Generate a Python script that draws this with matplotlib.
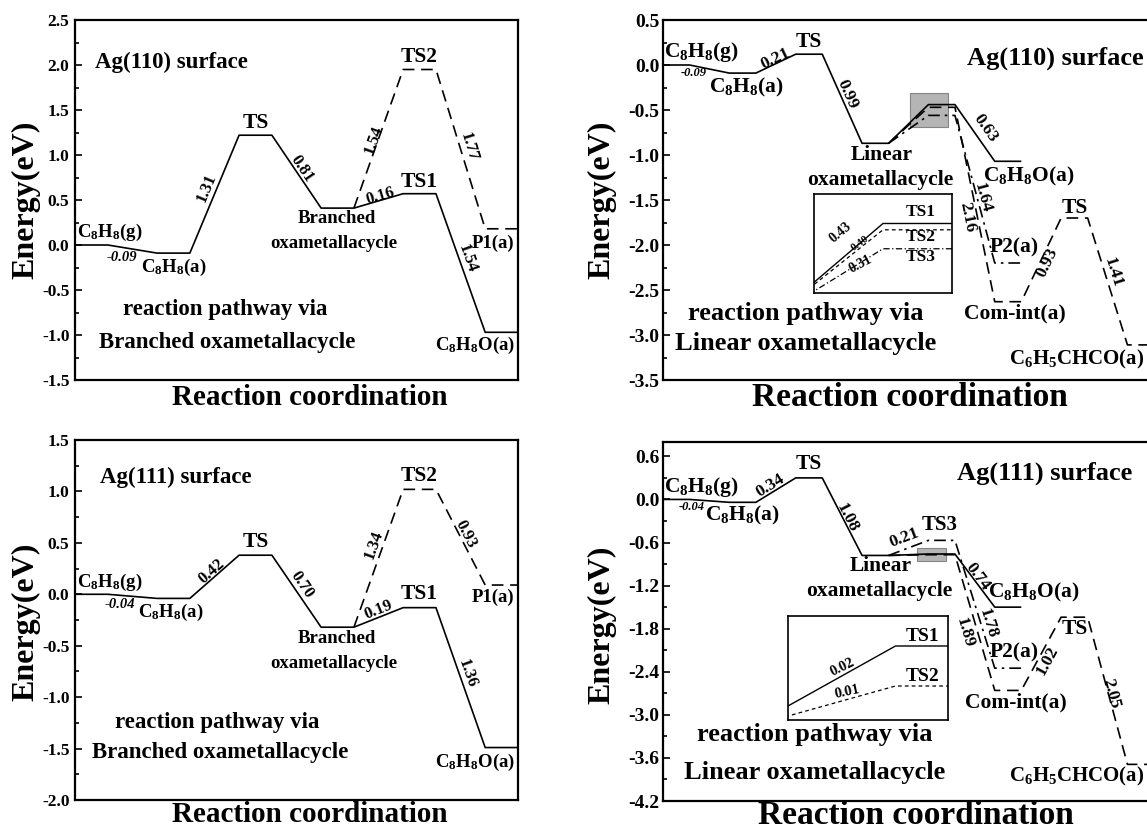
import numpy as np
import matplotlib
matplotlib.use("Agg")
import matplotlib.pyplot as plt
from matplotlib.patches import Rectangle
from matplotlib.ticker import FormatStrFormatter

plt.rcParams.update({
    "font.family": ["Liberation Serif", "DejaVu Serif"],
    "font.weight": "bold",
    "mathtext.fontset": "custom",
    "mathtext.rm": "Liberation Serif:bold",
    "mathtext.it": "Liberation Serif:italic:bold",
    "mathtext.bf": "Liberation Serif:bold",
    "axes.unicode_minus": False,
})

W, H = 1147, 834
fig = plt.figure(figsize=(W / 100, H / 100), dpi=100)

WL = 0.4  # width of an energy level in "step" units

# ---------------- data ----------------
# Ag(110), branched oxametallacycle pathway
tl_idx = [0, 1, 2, 3, 4, 5]
tl_E = [0.00, -0.09, 1.22, 0.41, 0.57, -0.97]
tl_alt_idx = [3, 4, 5]
tl_alt_E = [0.41, 1.95, 0.18]

# Ag(110), linear oxametallacycle pathway
tr_idx = [0, 1, 2, 3, 4, 5]
tr_E = [0.00, -0.09, 0.12, -0.87, -0.44, -1.07]
tr_dash_idx = [3, 4, 5, 6, 7]
tr_dash_E = [-0.87, -0.47, -2.63, -1.70, -3.11]
tr_dd_idx = [3, 4, 5]
tr_dd_E = [-0.87, -0.56, -2.20]

# Ag(111), branched oxametallacycle pathway
bl_idx = [0, 1, 2, 3, 4, 5]
bl_E = [0.00, -0.04, 0.38, -0.32, -0.13, -1.49]
bl_alt_idx = [3, 4, 5]
bl_alt_E = [-0.32, 1.02, 0.09]

# Ag(111), linear oxametallacycle pathway
br_idx = [0, 1, 2, 3, 4, 5]
br_E = [0.00, -0.04, 0.30, -0.78, -0.76, -1.50]
br_dash_idx = [3, 4, 5, 6, 7]
br_dash_E = [-0.78, -0.77, -2.66, -1.64, -3.69]
br_dd_idx = [3, 4, 5]
br_dd_E = [-0.78, -0.57, -2.35]

tl_ticks = [-1.5, -1.0, -0.5, 0.0, 0.5, 1.0, 1.5, 2.0, 2.5]
tr_ticks = [-3.5, -3.0, -2.5, -2.0, -1.5, -1.0, -0.5, 0.0, 0.5]
bl_ticks = [-2.0, -1.5, -1.0, -0.5, 0.0, 0.5, 1.0, 1.5]
br_ticks = [-4.2, -3.6, -3.0, -2.4, -1.8, -1.2, -0.6, 0.0, 0.6]

DASH = (0, (7, 4))
DASHDOT = (0, (7, 3, 1.5, 3))


def path_xy(idx, E, from_end=False):
    xs, ys = [], []
    for k, (i, e) in enumerate(zip(idx, E)):
        if k == 0 and from_end:
            xs.append(i + WL)
            ys.append(e)
        else:
            xs += [i, i + WL]
            ys += [e, e]
    return xs, ys


def make_ax(l, t, r, b, ylim, ticks, xmax, tsize=12.5, pad=4):
    ax = fig.add_axes([l / W, 1 - b / H, (r - l) / W, (b - t) / H])
    ax.set_xlim(0, xmax)
    ax.set_ylim(*ylim)
    ax.set_xticks([])
    ax.set_yticks(ticks)
    step = ticks[1] - ticks[0]
    minor = [round(v + step / 2, 3) for v in ticks[:-1]]
    if ylim[1] > ticks[-1] + step / 2 - 1e-9:
        minor.append(round(ticks[-1] + step / 2, 3))
    ax.set_yticks(minor, minor=True)
    ax.yaxis.set_major_formatter(FormatStrFormatter("%.1f"))
    ax.tick_params(axis="y", which="both", direction="in", labelsize=tsize,
                   width=1.2, pad=pad)
    ax.tick_params(axis="y", which="major", length=5)
    ax.tick_params(axis="y", which="minor", length=3)
    for s in ax.spines.values():
        s.set_linewidth(1.6)
    return ax


def seg_angle(ax, p0, p1):
    a = ax.transData.transform(p0)
    b = ax.transData.transform(p1)
    return np.degrees(np.arctan2(b[1] - a[1], b[0] - a[0]))


def draw(ax, idx, E, ls="-", from_end=False, lw=1.2):
    xs, ys = path_xy(idx, E, from_end)
    ax.plot(xs, ys, color="black", lw=lw, ls=ls, zorder=3,
            solid_capstyle="butt", dash_capstyle="butt")


def barrier(ax, txt, i0, e0, i1, e1, x, y, size=12):
    rot = seg_angle(ax, (i0 + WL, e0), (i1, e1))
    ax.text(x, y, txt, rotation=rot, rotation_mode="anchor", ha="center",
            va="center", fontsize=size, zorder=5)


def label(ax, x, y, s, size=13.5, ha="center", va="center", **kw):
    ax.text(x, y, s, fontsize=size, ha=ha, va=va, zorder=5, **kw)


C8H8g = r"C$_\mathrm{8}$H$_\mathrm{8}$(g)"
C8H8a = r"C$_\mathrm{8}$H$_\mathrm{8}$(a)"
C8H8O = r"C$_\mathrm{8}$H$_\mathrm{8}$O(a)"
C6H5 = r"C$_\mathrm{6}$H$_\mathrm{5}$CHCO(a)"

# right-hand panels are printed with slightly larger lettering
RS = 15.5   # state labels
RT = 19     # titles
RB = 12.5   # barrier labels

# ================= top-left =================
ax = make_ax(75, 20, 518, 380, (-1.5, 2.5), tl_ticks, 5.4)
draw(ax, tl_idx, tl_E)
draw(ax, tl_alt_idx, tl_alt_E, ls=DASH, from_end=True)
label(ax, 0.24, 2.03, "Ag(110) surface", 16.5, ha="left")
label(ax, 2.2, tl_E[2] + 0.03, "TS", 15.5, va="bottom")
label(ax, 4.2, tl_alt_E[1] + 0.03, "TS2", 15.5, va="bottom")
label(ax, 4.2, tl_E[4] + 0.02, "TS1", 15.5, va="bottom")
label(ax, 0.02, tl_E[0] + 0.02, C8H8g, ha="left", va="bottom")
label(ax, 0.57, -0.14, "-0.09", 10.5, style="italic")
label(ax, 0.81, tl_E[1] - 0.04, C8H8a, ha="left", va="top")
label(ax, 3.19, 0.30, "Branched", 13.5)
label(ax, 3.15, 0.02, "oxametallacycle", 13.5)
label(ax, 5.1, tl_alt_E[2] - 0.06, "P1(a)", 13.5, va="top")
label(ax, 4.88, tl_E[5] - 0.03, C8H8O, 13.5, va="top")
label(ax, 1.83, -0.72, "reaction pathway via", 16.5)
label(ax, 1.85, -1.08, "Branched oxametallacycle", 16.5)
barrier(ax, "1.31", 1, tl_E[1], 2, tl_E[2], 1.60, 0.63)
barrier(ax, "0.81", 2, tl_E[2], 3, tl_E[3], 2.77, 0.85)
barrier(ax, "0.16", 3, tl_E[3], 4, tl_E[4], 3.72, 0.54)
barrier(ax, "1.54", 3, tl_alt_E[0], 4, tl_alt_E[1], 3.64, 1.17)
barrier(ax, "1.77", 4, tl_alt_E[1], 5, tl_alt_E[2], 4.80, 1.09)
barrier(ax, "1.54", 4, tl_E[4], 5, tl_E[5], 4.78, -0.15)

# ================= top-right =================
ax = make_ax(663, 20, 1154, 380, (-3.5, 0.5), tr_ticks, 7.4, tsize=14, pad=2.5)
ax.add_patch(Rectangle((3.73, -0.69), 0.56, 0.38, facecolor="#a8a8a8",
                       edgecolor="#777777", lw=0.8, alpha=0.85, zorder=1))
draw(ax, tr_idx, tr_E)
draw(ax, tr_dash_idx, tr_dash_E, ls=DASH, from_end=True)
draw(ax, tr_dd_idx, tr_dd_E, ls=DASHDOT, from_end=True)
label(ax, 5.92, 0.08, "Ag(110) surface", RT)
label(ax, 0.02, tr_E[0] + 0.01, C8H8g, RS, ha="left", va="bottom")
label(ax, 0.47, -0.09, "-0.09", 9, style="italic")
label(ax, 0.69, tr_E[1] - 0.03, C8H8a, RS, ha="left", va="top")
label(ax, 2.2, tr_E[2] + 0.02, "TS", 15.5, va="bottom")
label(ax, 3.29, -1.00, "Linear", RS)
label(ax, 3.28, -1.28, "oxametallacycle", RS)
label(ax, 4.83, tr_E[5] - 0.04, C8H8O, RS, ha="left", va="top")
label(ax, 5.30, -2.03, "P2(a)", RS)
label(ax, 5.30, -2.76, "Com-int(a)", RS)
label(ax, 6.2, tr_dash_E[3], "TS", 15.5, va="bottom")
label(ax, 7.26, -3.27, C6H5, 15, ha="right")
label(ax, 2.15, -2.76, "reaction pathway via", RT)
label(ax, 2.15, -3.09, "Linear oxametallacycle", RT)
barrier(ax, "0.21", 1, tr_E[1], 2, tr_E[2], 1.69, 0.07, RB)
barrier(ax, "0.99", 2, tr_E[2], 3, tr_E[3], 2.78, -0.33, RB)
barrier(ax, "0.63", 4, tr_E[4], 5, tr_E[5], 4.86, -0.70, RB)
barrier(ax, "1.64", 4, tr_dd_E[1], 5, tr_dd_E[2], 4.82, -1.47, RB)
barrier(ax, "2.16", 4, tr_dash_E[1], 5, tr_dash_E[2], 4.59, -1.69, RB)
barrier(ax, "0.93", 5, tr_dash_E[2], 6, tr_dash_E[3], 5.79, -2.19, RB)
barrier(ax, "1.41", 6, tr_dash_E[3], 7, tr_dash_E[4], 6.78, -2.31, RB)

# inset (magnified grey box)
ins = fig.add_axes([814 / W, 1 - 293 / H, 138 / W, 99 / H])
ins.set_xticks([])
ins.set_yticks([])
ins.set_xlim(3.61, 4.39)
ins.set_ylim(-0.77, -0.30)
for s in ins.spines.values():
    s.set_linewidth(1.2)
draw(ins, tr_idx, tr_E, lw=1.0)
draw(ins, tr_dash_idx, tr_dash_E, ls=(0, (3, 2.5)), from_end=True, lw=0.9)
draw(ins, tr_dd_idx, tr_dd_E, ls=(0, (5, 2, 1, 2)), from_end=True, lw=0.9)
for txt, x, y, r, fs in [("0.43", 0.19, 0.61, 40, 10), ("0.40", 0.33, 0.50, 36, 8),
                         ("0.31", 0.34, 0.29, 28, 10)]:
    ins.text(x, y, txt, transform=ins.transAxes, rotation=r, fontsize=fs,
             ha="center", va="center", rotation_mode="anchor")
for txt, y in [("TS1", 0.82), ("TS2", 0.57), ("TS3", 0.36)]:
    ins.text(0.77, y, txt, transform=ins.transAxes, fontsize=12.5,
             ha="center", va="center")

# ================= bottom-left =================
ax = make_ax(75, 440, 518, 800, (-2.0, 1.5), bl_ticks, 5.4)
draw(ax, bl_idx, bl_E)
draw(ax, bl_alt_idx, bl_alt_E, ls=DASH, from_end=True)
label(ax, 0.30, 1.14, "Ag(111) surface", 16.5, ha="left")
label(ax, 4.2, bl_alt_E[1] + 0.03, "TS2", 15.5, va="bottom")
label(ax, 2.2, bl_E[2] + 0.03, "TS", 15.5, va="bottom")
label(ax, 4.2, bl_E[4] + 0.04, "TS1", 15.5, va="bottom")
label(ax, 0.02, bl_E[0] + 0.01, C8H8g, ha="left", va="bottom")
label(ax, 0.55, -0.10, "-0.04", 10.5, style="italic")
label(ax, 0.77, bl_E[1] - 0.03, C8H8a, ha="left", va="top")
label(ax, 5.1, bl_alt_E[2] - 0.04, "P1(a)", 13.5, va="top")
label(ax, 3.19, -0.43, "Branched", 13.5)
label(ax, 3.15, -0.67, "oxametallacycle", 13.5)
label(ax, 4.88, bl_E[5] - 0.04, C8H8O, 13.5, va="top")
label(ax, 1.73, -1.25, "reaction pathway via", 16.5)
label(ax, 1.77, -1.54, "Branched oxametallacycle", 16.5)
barrier(ax, "0.42", 1, bl_E[1], 2, bl_E[2], 1.67, 0.22)
barrier(ax, "0.70", 2, bl_E[2], 3, bl_E[3], 2.77, 0.09)
barrier(ax, "1.34", 3, bl_alt_E[0], 4, bl_alt_E[1], 3.64, 0.48)
barrier(ax, "0.93", 4, bl_alt_E[1], 5, bl_alt_E[2], 4.76, 0.58)
barrier(ax, "0.19", 3, bl_E[3], 4, bl_E[4], 3.70, -0.15)
barrier(ax, "1.36", 4, bl_E[4], 5, bl_E[5], 4.78, -0.77)

# ================= bottom-right =================
ax = make_ax(663, 442, 1154, 801, (-4.2, 0.8), br_ticks, 7.4, tsize=14, pad=2.5)
ax.add_patch(Rectangle((3.83, -0.86), 0.44, 0.19, facecolor="#a8a8a8",
                       edgecolor="#777777", lw=0.8, alpha=0.85, zorder=1))
draw(ax, br_idx, br_E)
draw(ax, br_dash_idx, br_dash_E, ls=DASH, from_end=True)
draw(ax, br_dd_idx, br_dd_E, ls=DASHDOT, from_end=True)
label(ax, 5.75, 0.36, "Ag(111) surface", RT)
label(ax, 0.02, br_E[0] + 0.01, C8H8g, RS, ha="left", va="bottom")
label(ax, 0.43, -0.11, "-0.04", 9, style="italic")
label(ax, 0.64, br_E[1] - 0.03, C8H8a, RS, ha="left", va="top")
label(ax, 2.2, br_E[2] + 0.06, "TS", 15.5, va="bottom")
label(ax, 3.28, -0.93, "Linear", RS)
label(ax, 3.26, -1.27, "oxametallacycle", RS)
label(ax, 4.17, br_dd_E[1] + 0.07, "TS3", 15, va="bottom")
label(ax, 4.90, br_E[5] + 0.05, C8H8O, RS, ha="left", va="bottom")
label(ax, 5.30, -2.13, "P2(a)", RS)
label(ax, 5.32, -2.83, "Com-int(a)", RS)
label(ax, 6.2, br_dash_E[3] - 0.02, "TS", 15.5, va="top")
label(ax, 7.26, -3.86, C6H5, 15, ha="right")
label(ax, 2.28, -3.28, "reaction pathway via", RT)
label(ax, 2.28, -3.80, "Linear oxametallacycle", RT)
barrier(ax, "0.34", 1, br_E[1], 2, br_E[2], 1.62, 0.19, RB)
barrier(ax, "1.08", 2, br_E[2], 3, br_E[3], 2.78, -0.26, RB)
barrier(ax, "0.21", 3, br_dd_E[0], 4, br_dd_E[1], 3.64, -0.54, RB)
barrier(ax, "0.74", 4, br_E[4], 5, br_E[5], 4.74, -1.08, RB)
barrier(ax, "1.78", 4, br_dd_E[1], 5, br_dd_E[2], 4.89, -1.73, RB)
barrier(ax, "1.89", 4, br_dash_E[1], 5, br_dash_E[2], 4.55, -1.85, RB)
barrier(ax, "1.02", 5, br_dash_E[2], 6, br_dash_E[3], 5.80, -2.24, RB)
barrier(ax, "2.05", 6, br_dash_E[3], 7, br_dash_E[4], 6.75, -2.70, RB)

ins = fig.add_axes([788 / W, 1 - 720 / H, 160 / W, 104 / H])
ins.set_xticks([])
ins.set_yticks([])
ins.set_xlim(3.55, 4.22)
ins.set_ylim(-0.7785, -0.7525)
for s in ins.spines.values():
    s.set_linewidth(1.2)
draw(ins, br_idx, br_E, lw=1.0)
draw(ins, br_dash_idx, br_dash_E, ls=(0, (3, 2.5)), from_end=True, lw=0.9)
ins.text(0.34, 0.51, "0.02", transform=ins.transAxes, rotation=26, fontsize=10.5,
         ha="center", va="center", rotation_mode="anchor")
ins.text(0.37, 0.27, "0.01", transform=ins.transAxes, rotation=12, fontsize=10.5,
         ha="center", va="center", rotation_mode="anchor")
ins.text(0.84, 0.80, "TS1", transform=ins.transAxes, fontsize=14, ha="center", va="center")
ins.text(0.84, 0.42, "TS2", transform=ins.transAxes, fontsize=14, ha="center", va="center")

# ---------- axis titles ----------
for x, y in [(26, 200), (602, 200), (26, 622), (602, 625)]:
    fig.text(x / W, 1 - y / H, "Energy(eV)", rotation=90, ha="center",
             va="center", fontsize=23)
for x, y, fs in [(310, 398, 21), (910, 398, 24), (310, 814, 21), (916, 815, 24)]:
    fig.text(x / W, 1 - y / H, "Reaction coordination", ha="center",
             va="center", fontsize=fs)

fig.savefig("out.png", dpi=100)
